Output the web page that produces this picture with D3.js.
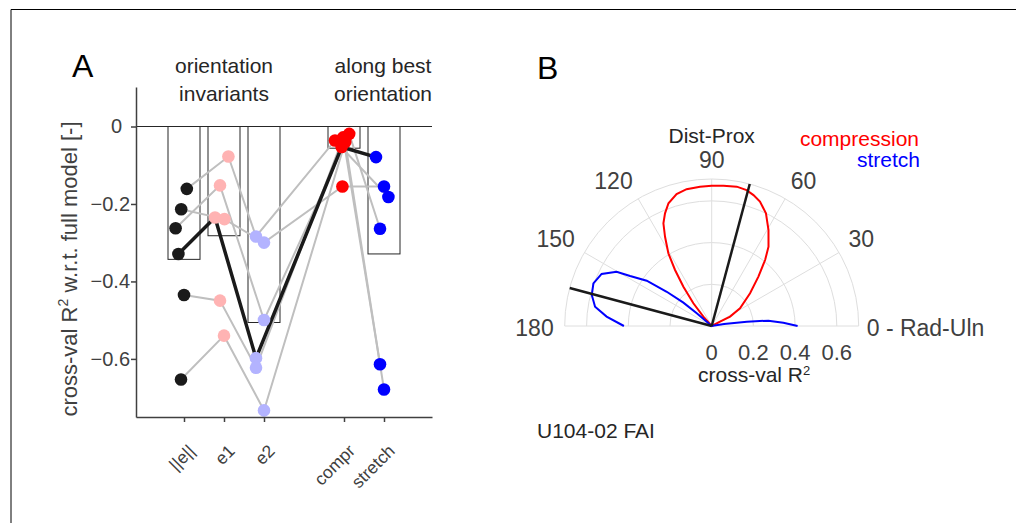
<!DOCTYPE html>
<html><head><meta charset="utf-8">
<script src="https://cdn.jsdelivr.net/npm/d3@7"></script>
<style>
body{margin:0;background:#fff}
svg{display:block}
text{font-family:"Liberation Sans",Arial,Helvetica,sans-serif}
</style>
</head><body>
<svg id="c" width="1016" height="523"></svg>
<script>
// ---------- Panel A data ----------
const categories = ["||e||", "e1", "e2", "compr", "stretch"];
const categoryX = [1, 2, 3, 5, 6];
const yTicks = [0, -0.2, -0.4, -0.6];
const barMeans = [-0.343, -0.282, -0.506, -0.056, -0.329];
// one value per subject (subject 0 = highlighted U104-02)
const normE   = [-0.329, -0.161, -0.2135, -0.2626, -0.435, -0.653];
const e1      = [-0.235, -0.0775, -0.239, -0.152, -0.4496, -0.540];
const e2      = [-0.598, -0.284, -0.2997, -0.4995, -0.6227, -0.733];
const compr   = [-0.053, -0.036, -0.155, -0.019, -0.028, -0.040];
const stretch = [-0.079, -0.182, -0.155, -0.264, -0.614, -0.679];
// horizontal jitter of each point (x units)
const normEJit   = [-0.14, 0.07, -0.07, -0.21, 0.0, -0.075];
const e1Jit      = [-0.225, 0.11, 0.01, -0.1, -0.1, 0.0];
const e2Jit      = [-0.2, -0.2, 0.0, 0.0, -0.2, 0.0];
const comprJit   = [-0.06, -0.225, -0.04, 0.13, -0.02, 0.03];
const stretchJit = [-0.2, 0.11, 0.0, -0.1, -0.1, 0.0];

// ---------- Panel B data ----------
const thetaTicks = [0, 30, 60, 90, 120, 150, 180];
const thetaTickLabels = ["0 - Rad-Uln", "30", "60", "90", "120", "150", "180"];
const rTicks = [0, 0.2, 0.4, 0.6];
const rMax = 0.705;
const comprTheta = [27, 27.5, 27, 32, 40.5, 46.6, 51, 54.4, 59.4, 64.3, 68.8, 72.3, 75.6, 79.8, 85.2, 90, 94.8, 100.4, 104.9, 109.4, 112.5, 115.2, 117.6, 120.8, 123.2, 125.8, 128.9, 131.8, 133];
const comprR     = [0, 0.045, 0.099, 0.160, 0.242, 0.326, 0.407, 0.468, 0.535, 0.600, 0.640, 0.659, 0.673, 0.679, 0.675, 0.673, 0.670, 0.667, 0.655, 0.624, 0.585, 0.544, 0.483, 0.406, 0.321, 0.232, 0.140, 0.060, 0];
const stretchTheta = [0, 2.6, 5.4, 7, 9, 10, 139, 139.7, 140.5, 142.7, 145.1, 148.5, 150.3, 154.7, 160.2, 165.5, 170.6, 174.9, 180];
const stretchR     = [0.412, 0.344, 0.273, 0.17, 0.06, 0, 0, 0.094, 0.176, 0.271, 0.380, 0.459, 0.525, 0.584, 0.603, 0.594, 0.567, 0.506, 0.421];
const bestTheta = [75, 165];

// ---------- drawing ----------
const FONT = '"Liberation Sans",Arial,Helvetica,sans-serif';
const AX = "#404040";
const svg = d3.select("#c");
svg.append("rect").attr("width", 1016).attr("height", 523).attr("fill", "#fff");
svg.append("path").attr("d", "M11,523V9.5H1016").attr("fill", "none").attr("stroke", "#000").attr("stroke-width", 1);

const x = d3.scaleLinear().domain([-0.2, 7.2]).range([136, 432]);
const y = d3.scaleLinear().domain([-0.75, 0.102]).range([417, 87]);
const gA = svg.append("g");

// bars
gA.selectAll("rect.bar").data(barMeans).join("rect").attr("class", "bar")
  .attr("x", (d, i) => x(categoryX[i] - 0.4))
  .attr("width", (d, i) => x(categoryX[i] + 0.4) - x(categoryX[i] - 0.4))
  .attr("y", y(0)).attr("height", d => y(d) - y(0))
  .attr("fill", "none").attr("stroke", "#262626").attr("stroke-width", 1);

// zero line
gA.append("line").attr("x1", x(-0.2)).attr("x2", x(7.2)).attr("y1", y(0)).attr("y2", y(0))
  .attr("stroke", "#262626").attr("stroke-width", 1);

// subjects
const vals = [normE, e1, e2, compr, stretch];
const jits = [normEJit, e1Jit, e2Jit, comprJit, stretchJit];
const subjects = normE.map((_, s) => vals.map((v, k) => [x(categoryX[k] + jits[k][s]), y(v[s])]));
const line = d3.line();
gA.selectAll("path.subj").data(subjects.slice(1)).join("path").attr("class", "subj")
  .attr("d", line).attr("fill", "none").attr("stroke", "#bfbfbf").attr("stroke-width", 2);
gA.append("path").datum(subjects[0]).attr("d", line).attr("fill", "none")
  .attr("stroke", "#1a1a1a").attr("stroke-width", 3.5).attr("stroke-linejoin", "round");

const colors = ["#1a1a1a", "#ffb3b3", "#b3b3ff", "#ff0000", "#0000ff"];
vals.forEach((v, k) => {
  gA.selectAll("circle.c" + k).data(v).join("circle").attr("class", "c" + k)
    .attr("cx", (d, s) => x(categoryX[k] + jits[k][s])).attr("cy", d => y(d))
    .attr("r", 6.3).attr("fill", colors[k]);
});

// axes
const yAxis = d3.axisLeft(y).tickValues(yTicks).tickSize(5).tickSizeOuter(0).tickPadding(1)
  .tickFormat(d => d === 0 ? "0" : d3.format(".1f")(d));
const gy = gA.append("g").attr("transform", `translate(${x(-0.2)},0)`).call(yAxis);
const xAxis = d3.axisBottom(x).tickValues(categoryX).tickSize(5).tickSizeOuter(0).tickFormat("");
const gx = gA.append("g").attr("transform", `translate(0,${y(-0.75)})`).call(xAxis);
[gx, gy].forEach(g => {
  g.selectAll("path,line").attr("stroke", AX).attr("stroke-width", 1.5);
  g.selectAll("text").attr("font-size", 20).attr("font-family", FONT).attr("fill", AX);
});
gy.selectAll(".tick text").filter(d => d === 0).attr("dx", -8);

// rotated category labels
gA.selectAll("text.xl").data(categories).join("text").attr("class", "xl")
  .attr("transform", (d, i) => `translate(${x(categoryX[i]) + 12},452) rotate(-45)`)
  .attr("text-anchor", "end").attr("font-size", 17.5).attr("fill", AX).text(d => d);

// y label
const yl = gA.append("text").attr("transform", "translate(77,269) rotate(-90)")
  .attr("text-anchor", "middle").attr("font-size", 22).attr("fill", AX);
yl.append("tspan").text("cross-val R");
yl.append("tspan").attr("dy", -9).attr("font-size", 14).text("2");
yl.append("tspan").attr("dy", 9).text(" w.r.t. full model [-]");

// headers
const hdr = (t, xx, yy) => gA.append("text").attr("x", xx).attr("y", yy).attr("text-anchor", "middle")
  .attr("font-size", 21).attr("fill", "#262626").text(t);
hdr("orientation", 224, 73); hdr("invariants", 224, 100.7);
hdr("along best", 383, 73); hdr("orientation", 383, 100.7);
svg.append("text").attr("x", 72).attr("y", 77).attr("font-size", 32).attr("fill", "#000").text("A");
svg.append("text").attr("x", 537).attr("y", 79).attr("font-size", 32).attr("fill", "#000").text("B");

// ---------- Panel B ----------
const cx = 711.7, cy = 326;
const r = d3.scaleLinear().domain([0, rMax]).range([0, 147]);
const gB = svg.append("g").attr("transform", `translate(${cx},${cy})`);
const GRID = "#dedede";
[...rTicks.filter(v => v > 0), rMax].forEach(v => {
  const p = d3.path(); p.arc(0, 0, r(v), Math.PI, 2 * Math.PI);
  gB.append("path").attr("d", p.toString()).attr("fill", "none").attr("stroke", GRID).attr("stroke-width", 1);
});
const rad = t => t * Math.PI / 180;
gB.selectAll("line.spoke").data(thetaTicks).join("line").attr("class", "spoke")
  .attr("x1", 0).attr("y1", 0)
  .attr("x2", t => r(rMax) * Math.cos(rad(t))).attr("y2", t => -r(rMax) * Math.sin(rad(t)))
  .attr("stroke", GRID).attr("stroke-width", 1);

const radial = d3.lineRadial().angle(d => rad(90 - d[0])).radius(d => r(d[1]));
gB.append("path").datum(comprTheta.map((t, i) => [t, comprR[i]])).attr("d", radial)
  .attr("fill", "none").attr("stroke", "#ff0000").attr("stroke-width", 2);
gB.append("path").datum(stretchTheta.map((t, i) => [t, stretchR[i]])).attr("d", radial)
  .attr("fill", "none").attr("stroke", "#0000ff").attr("stroke-width", 2);
bestTheta.forEach(t => {
  gB.append("path").datum([[t, 0], [t, rMax]]).attr("d", radial)
    .attr("fill", "none").attr("stroke", "#1a1a1a").attr("stroke-width", 2.5);
});

// theta labels
thetaTicks.forEach((t, i) => {
  const tx = gB.append("text").attr("font-size", 23).attr("fill", AX).attr("dominant-baseline", "central").text(thetaTickLabels[i]);
  if (t === 0) { tx.attr("x", r(rMax) + 8).attr("y", 2).attr("text-anchor", "start"); }
  else if (t === 180) { tx.attr("x", -r(rMax) - 11).attr("y", 2).attr("text-anchor", "end"); }
  else {
    const w = tx.node().getComputedTextLength();
    const c = Math.cos(rad(t)), s = Math.sin(rad(t));
    const A = r(rMax) + 11;
    const sx = Math.abs(c) < 1e-6 ? 0 : Math.sign(c);
    tx.attr("x", A * c + sx * w / 2).attr("y", -(A * s + 8)).attr("text-anchor", "middle");
  }
});
// r labels
gB.selectAll("text.rl").data(rTicks).join("text").attr("class", "rl")
  .attr("x", d => r(d)).attr("y", 26).attr("text-anchor", "middle").attr("dominant-baseline", "central")
  .attr("font-size", 22).attr("fill", AX).text(d => d === 0 ? "0" : d3.format(".1f")(d));
const rl = gB.append("text").attr("x", -13.7).attr("y", 56).attr("font-size", 21).attr("fill", "#262626");
rl.append("tspan").text("cross-val R");
rl.append("tspan").attr("dy", -7).attr("font-size", 13).text("2");

svg.append("text").attr("x", cx).attr("y", 135).attr("text-anchor", "middle").attr("dominant-baseline", "central")
  .attr("font-size", 21).attr("fill", "#262626").text("Dist-Prox");
svg.append("text").attr("x", 919).attr("y", 138).attr("text-anchor", "end").attr("dominant-baseline", "central")
  .attr("font-size", 21).attr("fill", "#ff0000").text("compression");
svg.append("text").attr("x", 920).attr("y", 159).attr("text-anchor", "end").attr("dominant-baseline", "central")
  .attr("font-size", 21).attr("fill", "#0000ff").text("stretch");
svg.append("text").attr("x", 537).attr("y", 438).attr("font-size", 21).attr("fill", "#262626").text("U104-02 FAI");
</script>
</body></html>
